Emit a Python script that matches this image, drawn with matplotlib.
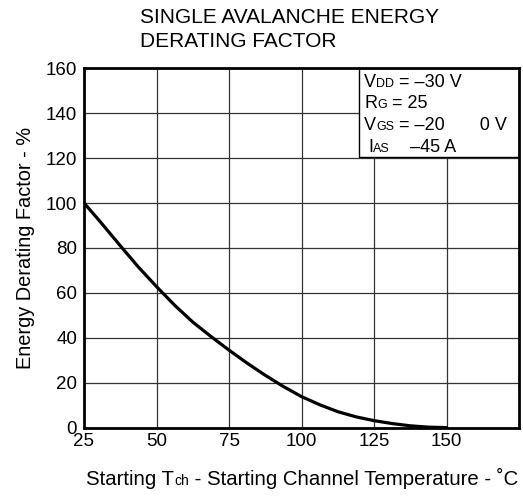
import matplotlib
matplotlib.use("Agg")
import matplotlib.pyplot as plt
from matplotlib.patches import Rectangle

plt.rcParams['font.family'] = ['Liberation Sans', 'DejaVu Sans']

# Data
temp_c = [25, 30, 37.5, 43.75, 50, 56.25, 62.5, 68.75, 75, 81.25, 87.5, 93.75,
          100, 106.25, 112.5, 118.75, 125, 131.25, 137.5, 143.75, 150]
derating_pct = [100, 92.6, 81, 71.5, 62.8, 54.5, 47, 40.6, 34.5, 28.7, 23.3, 18.3,
                13.8, 10.2, 7.1, 4.8, 3.1, 1.8, 0.8, 0.2, 0]
x_ticks = [25, 50, 75, 100, 125, 150]
y_ticks = [0, 20, 40, 60, 80, 100, 120, 140, 160]

W, H = 523, 497
fig = plt.figure(figsize=(W/100, H/100), dpi=100)
ax = fig.add_axes([84/W, 1 - 427.6/H, (519-84)/W, (427.6-68.3)/H])

ax.set_xlim(25, 175)
ax.set_ylim(0, 160)
ax.set_xticks(x_ticks)
ax.set_yticks(y_ticks)
ax.tick_params(length=0, labelsize=13.5)
ax.tick_params(axis='x', pad=4)
ax.tick_params(axis='y', pad=5)
ax.grid(True, color='#333333', linewidth=0.9)
ax.set_axisbelow(True)
for s in ax.spines.values():
    s.set_linewidth(2)
    s.set_zorder(5)

ax.plot(temp_c, derating_pct, color='black', linewidth=2.3, zorder=3,
        solid_joinstyle='round', solid_capstyle='round')

# Conditions box
ax.add_patch(Rectangle((119.8, 120.3), 175 - 119.8, 160 - 120.3,
                       facecolor='white', edgecolor='black', linewidth=1.0, zorder=4))

renderer = fig.canvas.get_renderer()

def rich_text(x_px, y_px, parts, big, small):
    """Draw pieces on one baseline starting at pixel (x_px, y_px from top)."""
    x = x_px
    for t, is_small in parts:
        txt = fig.text(x / W, 1 - y_px / H, t, fontsize=(small if is_small else big),
                       ha='left', va='baseline', zorder=7)
        x += txt.get_window_extent(renderer).width
    return x

fs, sfs = 13, 9
rich_text(364.3, 86.7, [("V", False), ("DD", True), (" = \u201330 V", False)], fs, sfs)
rich_text(364.3, 108.3, [("R", False), ("G", True), (" = 25", False)], fs, sfs)
rich_text(364.3, 130.3, [("V", False), ("GS", True), (" = \u201320       0 V", False)], fs, sfs)
rich_text(368.0, 152.0, [("I", False), ("AS", True), ("    \u201345 A", False)], fs, sfs)

ax.set_ylabel("Energy Derating Factor - %", fontsize=14.4, labelpad=8)

# x label with small subscript, centred on the axes
xfs, xsfs = 14.7, 10
parts = [("Starting T", False), ("ch", True), (" - Starting Channel Temperature - \u02daC", False)]
widths = []
for t, sm in parts:
    tt = fig.text(0, 0, t, fontsize=(xsfs if sm else xfs))
    widths.append(tt.get_window_extent(renderer).width)
    tt.remove()
total = sum(widths)
rich_text(302 - total / 2, 485, parts, xfs, xsfs)

fig.text(140/W, 1 - 23/H, "SINGLE AVALANCHE ENERGY", fontsize=15, ha='left', va='baseline')
fig.text(140/W, 1 - 47/H, "DERATING FACTOR", fontsize=15, ha='left', va='baseline')

fig.savefig("out.png", dpi=100)
